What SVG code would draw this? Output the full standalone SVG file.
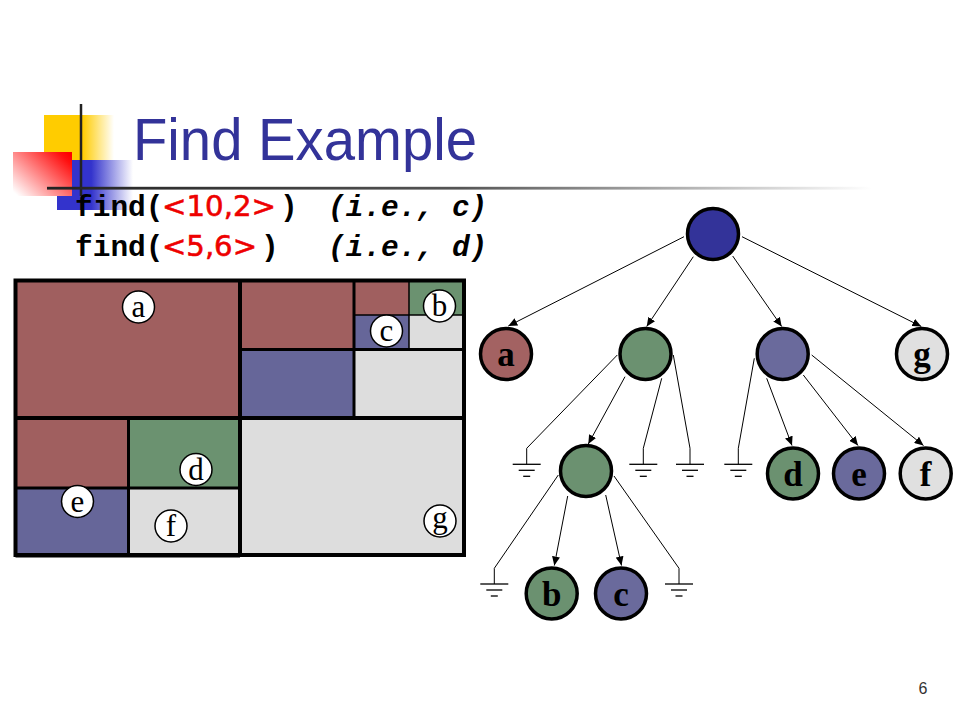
<svg xmlns="http://www.w3.org/2000/svg" width="960" height="720" viewBox="0 0 960 720">
<style>
.title{font-family:"Liberation Sans",Arial,sans-serif;font-size:60px;fill:#333399}
.mono{font-family:"Liberation Mono","Courier New",monospace;font-size:29.5px;font-weight:bold;fill:#000}
.it{font-style:italic}
.red{font-family:"DejaVu Sans",Verdana,sans-serif;font-size:29px;fill:#EE0000;stroke:#EE0000;stroke-width:0.6}
.cell{stroke:none}
.R{fill:#A05F5F}.B{fill:#666699}.G{fill:#6B9270}.L{fill:#DDDDDD}
.thick{stroke:#000;stroke-width:4;fill:none}
.mid{stroke:#000;stroke-width:3;fill:none}
.thin{stroke:#000;stroke-width:1.5;fill:none}
.lbl{fill:#fff;stroke:#000;stroke-width:1.5}
.lt{font-family:"Liberation Serif","Times New Roman",serif;font-size:31px;fill:#000;text-anchor:middle}
.node{stroke:#000;stroke-width:3.5}
.nt{font-family:"Liberation Serif","Times New Roman",serif;font-size:35px;font-weight:bold;fill:#000;text-anchor:middle}
.edge{stroke:#000;stroke-width:1;fill:none}
.gl{stroke:#000;stroke-width:1.3}
.pg{font-family:"Liberation Sans",Arial,sans-serif;font-size:16px;fill:#333;text-anchor:middle}
</style>
<defs>
<linearGradient id="gy" x1="0" y1="0" x2="1" y2="0"><stop offset="0" stop-color="#FFCC00"/><stop offset="0.55" stop-color="#FFCC00"/><stop offset="1" stop-color="#FFCC00" stop-opacity="0"/></linearGradient>
<linearGradient id="gb" x1="0" y1="0" x2="1" y2="0"><stop offset="0" stop-color="#3333CC"/><stop offset="0.45" stop-color="#3333CC"/><stop offset="1" stop-color="#3333CC" stop-opacity="0"/></linearGradient>
<linearGradient id="gr" x1="0" y1="0.9" x2="1" y2="0.1"><stop offset="0" stop-color="#FFFFFF"/><stop offset="0.9" stop-color="#FF1010"/><stop offset="1" stop-color="#FF0000"/></linearGradient>
<linearGradient id="gh" x1="0" y1="0" x2="1" y2="0"><stop offset="0" stop-color="#222"/><stop offset="0.5" stop-color="#555"/><stop offset="1" stop-color="#fff"/></linearGradient>
<marker id="arr" markerUnits="userSpaceOnUse" markerWidth="10" markerHeight="8" refX="9" refY="4" orient="auto"><path d="M0,0 L9,4 L0,8 Z" fill="#000"/></marker>
<g id="gnd"><line class="gl" x1="-14" y1="0" x2="14" y2="0"/><line class="gl" x1="-8" y1="6" x2="8" y2="6"/><line class="gl" x1="-3.5" y1="12" x2="3.5" y2="12"/></g>
</defs>

<g id="decoration">
<rect x="44" y="115" width="70" height="45" fill="url(#gy)"/>
<rect x="57" y="160" width="76" height="50" fill="url(#gb)"/>
<rect x="13" y="152" width="59" height="44" fill="url(#gr)"/>
<line x1="81" y1="104" x2="81" y2="196" stroke="#222" stroke-width="2.5"/>
<rect x="47" y="186.8" width="825" height="2.8" fill="url(#gh)"/>
</g>

<g id="title"><text class="title" x="133" y="160" textLength="344" lengthAdjust="spacingAndGlyphs">Find Example</text></g>

<g id="code">
<text class="mono" x="75" y="216">find(</text>
<text class="red" x="162" y="216" textLength="114" lengthAdjust="spacingAndGlyphs">&lt;10,2&gt;</text>
<text class="mono" x="280" y="216">)</text>
<text class="mono it" x="328" y="216">(i.e., c)</text>
<text class="mono" x="75" y="256">find(</text>
<text class="red" x="162" y="256" textLength="95" lengthAdjust="spacingAndGlyphs">&lt;5,6&gt;</text>
<text class="mono" x="261" y="256">)</text>
<text class="mono it" x="328" y="256">(i.e., d)</text>
</g>

<g id="space">
<rect class="cell R" x="15.5" y="280.5" width="224.5" height="137.5"/>
<rect class="cell R" x="240" y="280.5" width="114" height="69"/>
<rect class="cell R" x="354" y="280.5" width="55" height="34.5"/>
<rect class="cell G" x="409" y="280.5" width="55" height="34.5"/>
<rect class="cell B" x="354" y="315" width="55" height="34.5"/>
<rect class="cell L" x="409" y="315" width="55" height="34.5"/>
<rect class="cell B" x="240" y="349.5" width="114" height="68.5"/>
<rect class="cell L" x="354" y="349.5" width="110" height="68.5"/>
<rect class="cell R" x="15.5" y="418" width="113" height="70"/>
<rect class="cell G" x="128.5" y="418" width="111.5" height="70"/>
<rect class="cell B" x="15.5" y="488" width="113" height="67"/>
<rect class="cell L" x="128.5" y="488" width="111.5" height="67"/>
<rect class="cell L" x="240" y="418" width="224" height="137"/>
<line class="thin" x1="409" y1="280.5" x2="409" y2="349.5"/>
<line class="thin" x1="354" y1="315" x2="464" y2="315"/>
<line class="mid" x1="354" y1="280.5" x2="354" y2="418"/>
<line class="mid" x1="240" y1="349.5" x2="464" y2="349.5"/>
<line class="mid" x1="128.5" y1="418" x2="128.5" y2="556"/>
<line class="mid" x1="15.5" y1="488" x2="240" y2="488"/>
<line class="thick" x1="240" y1="280.5" x2="240" y2="556"/>
<line class="thick" x1="15.5" y1="418" x2="464" y2="418"/>
<rect class="thick" x="15.5" y="280.5" width="448.5" height="274.5"/>
<line class="thick" x1="15.5" y1="555.5" x2="240" y2="555.5"/>
</g>

<g id="space-labels">
<g id="sl-a"><circle class="lbl" cx="138.5" cy="307" r="16"/><text class="lt" x="138.5" y="317">a</text></g>
<g id="sl-b"><circle class="lbl" cx="439.5" cy="306" r="16"/><text class="lt" x="439.5" y="316">b</text></g>
<g id="sl-c"><circle class="lbl" cx="386.5" cy="331" r="16"/><text class="lt" x="386.5" y="341">c</text></g>
<g id="sl-d"><circle class="lbl" cx="196" cy="469.5" r="16"/><text class="lt" x="196" y="479.5">d</text></g>
<g id="sl-e"><circle class="lbl" cx="77.5" cy="501.5" r="16"/><text class="lt" x="77.5" y="511.5">e</text></g>
<g id="sl-f"><circle class="lbl" cx="171" cy="526" r="16"/><text class="lt" x="171" y="536">f</text></g>
<g id="sl-g"><circle class="lbl" cx="440" cy="521" r="16"/><text class="lt" x="440" y="528">g</text></g>
</g>

<g id="connectors">
<line class="edge" x1="684" y1="236.7" x2="508.3" y2="326" marker-end="url(#arr)"/>
<line class="edge" x1="693.3" y1="256.7" x2="646.7" y2="326.5" marker-end="url(#arr)"/>
<line class="edge" x1="732.7" y1="256" x2="781.7" y2="326.5" marker-end="url(#arr)"/>
<line class="edge" x1="742" y1="236.7" x2="921.3" y2="326.5" marker-end="url(#arr)"/>
<polyline class="edge" points="617.3,355 526.7,448.3 526.7,464.3"/>
<line class="edge" x1="625" y1="376.7" x2="588.3" y2="444" marker-end="url(#arr)"/>
<polyline class="edge" points="661.7,378.3 643.3,448.3 643.3,464.3"/>
<polyline class="edge" points="673.3,355 690,448.3 690,464.3"/>
<polyline class="edge" points="754.3,358.3 738.3,448.3 738.3,464.3"/>
<line class="edge" x1="766.7" y1="378.3" x2="792" y2="445.5" marker-end="url(#arr)"/>
<line class="edge" x1="803.3" y1="375" x2="858" y2="445.5" marker-end="url(#arr)"/>
<line class="edge" x1="811.7" y1="355" x2="923.5" y2="445.5" marker-end="url(#arr)"/>
<polyline class="edge" points="558.3,475 494.3,568.3 494.3,584"/>
<line class="edge" x1="567.7" y1="496" x2="554.3" y2="565.5" marker-end="url(#arr)"/>
<line class="edge" x1="605.7" y1="495" x2="621.5" y2="565.5" marker-end="url(#arr)"/>
<polyline class="edge" points="614,476 679,568.3 679,584"/>
<use href="#gnd" x="526.7" y="464.3"/>
<use href="#gnd" x="643.3" y="464.3"/>
<use href="#gnd" x="690" y="464.3"/>
<use href="#gnd" x="738.3" y="464.3"/>
<use href="#gnd" x="494.3" y="584"/>
<use href="#gnd" x="679" y="584"/>
</g>

<g id="n-root"><circle class="node" cx="713" cy="234" r="25.5" fill="#333399"/></g>
<g id="n-a"><circle class="node" cx="506" cy="354" r="25.5" fill="#A36262"/><text class="nt" x="506" y="366">a</text></g>
<g id="n-green1"><circle class="node" cx="645.5" cy="354" r="25.5" fill="#6B9170"/></g>
<g id="n-blue1"><circle class="node" cx="782.7" cy="354" r="25.5" fill="#6A6A9C"/></g>
<g id="n-g"><circle class="node" cx="922" cy="354" r="25.5" fill="#E0E0E0"/><text class="nt" x="922" y="366">g</text></g>
<g id="n-green2"><circle class="node" cx="586" cy="471" r="25.5" fill="#6B9170"/></g>
<g id="n-d"><circle class="node" cx="793" cy="473.5" r="25.5" fill="#6B9170"/><text class="nt" x="793" y="485.5">d</text></g>
<g id="n-e"><circle class="node" cx="859" cy="473.5" r="25.5" fill="#6A6A9C"/><text class="nt" x="859" y="485.5">e</text></g>
<g id="n-f"><circle class="node" cx="925.7" cy="473.5" r="25.5" fill="#E0E0E0"/><text class="nt" x="925.7" y="485.5">f</text></g>
<g id="n-b"><circle class="node" cx="551.7" cy="593.5" r="25.5" fill="#6B9170"/><text class="nt" x="551.7" y="605.5">b</text></g>
<g id="n-c"><circle class="node" cx="621" cy="593.5" r="25.5" fill="#6A6A9C"/><text class="nt" x="621" y="605.5">c</text></g>

<g id="page"><text class="pg" x="923" y="694">6</text></g>
</svg>
